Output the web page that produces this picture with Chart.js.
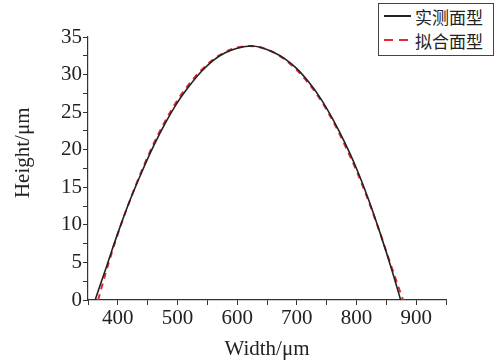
<!DOCTYPE html>
<html>
<head>
<meta charset="utf-8">
<script src="https://cdn.jsdelivr.net/npm/chart.js@4.4.1/dist/chart.umd.min.js"></script>
<style>
  html, body { margin: 0; padding: 0; background: #fff; }
  #wrap { position: relative; width: 497px; height: 362px; }
  #legend {
    position: absolute; left: 378px; top: 3px; width: 114px; height: 51px;
    border: 1px solid #444; background: #fff;
    font-family: "Noto Sans CJK SC", sans-serif; font-size: 17px; color: #222;
  }
  .row { display: flex; align-items: center; height: 24px; padding-left: 5px; }
  .swatch { width: 27px; height: 2px; margin-right: 4px; }
</style>
</head>
<body>
<div id="wrap">
  <canvas id="myChart" width="497" height="362"></canvas>
  <div id="legend"></div>
</div>
<script>
// measured profile
const measuredWidth  = [362, 370, 380, 390, 400, 420, 440, 460, 480, 500, 520, 540, 560, 580, 600, 625, 640, 660, 680, 700, 720, 740, 760, 780, 800, 820, 840, 860, 874];
const measuredHeight = [0, 1.9, 4.2, 6.6, 8.9, 13.2, 17.0, 20.5, 23.6, 26.3, 28.5, 30.4, 31.9, 32.9, 33.5, 33.8, 33.6, 33.0, 32.1, 30.8, 29.0, 26.8, 24.1, 21.0, 17.5, 13.4, 8.8, 3.8, 0];
// fitted profile
const fitWidth  = [367, 380, 400, 420, 440, 460, 480, 500, 520, 540, 560, 580, 600, 620, 640, 660, 680, 700, 720, 740, 760, 780, 800, 820, 840, 860, 878];
const fitHeight = [0, 3.7, 8.8, 13.2, 17.2, 20.8, 23.9, 26.6, 28.8, 30.6, 32.0, 33.0, 33.6, 33.8, 33.6, 33.0, 32.0, 30.6, 28.8, 26.6, 23.9, 20.7, 17.2, 13.2, 8.8, 4.1, 0];

const seriesLabels = ['实测面型', '拟合面型'];
const xTickLabels = [400, 500, 600, 700, 800, 900];
const yTickLabels = [0, 5, 10, 15, 20, 25, 30, 35];

const toPoints = (xs, ys) => xs.map((x, i) => ({ x: x, y: ys[i] }));
const serif = 'Liberation Serif';

const ctx = document.getElementById('myChart').getContext('2d');
const myChart = new Chart(ctx, {
  type: 'line',
  data: {
    datasets: [{
      label: seriesLabels[0],
      data: toPoints(measuredWidth, measuredHeight),
      borderColor: '#222',
      borderWidth: 1.6,
      pointRadius: 0,
      cubicInterpolationMode: 'monotone'
    }, {
      label: seriesLabels[1],
      data: toPoints(fitWidth, fitHeight),
      borderColor: '#e8262b',
      borderWidth: 2,
      borderDash: [6, 5],
      pointRadius: 0,
      cubicInterpolationMode: 'monotone'
    }]
  },
  options: {
    responsive: false,
    animation: false,
    layout: { padding: { top: 37, right: 51, left: 0, bottom: 0 } },
    plugins: { legend: { display: false }, tooltip: { enabled: false } },
    scales: {
      x: {
        type: 'linear', min: 350, max: 950,
        afterFit: (s) => { s.height = 62; },
        ticks: {
          stepSize: 50, autoSkip: false, maxRotation: 0, padding: 1,
          color: '#222', font: { family: serif, size: 21 },
          callback: (v) => xTickLabels.includes(v) ? v : ''
        },
        grid: { drawOnChartArea: false, tickLength: 5, tickColor: '#333' },
        border: { color: '#333', width: 1.2 },
        title: { display: true, text: 'Width/μm', color: '#222', font: { family: serif, size: 21 }, padding: { top: 0, bottom: 0 } }
      },
      y: {
        min: 0, max: 35,
        afterFit: (s) => { s.width = 88; },
        ticks: {
          stepSize: 2.5, autoSkip: false, padding: 1,
          color: '#222', font: { family: serif, size: 21 },
          callback: (v) => yTickLabels.includes(v) ? v : ''
        },
        grid: { drawOnChartArea: false, tickLength: 5, tickColor: '#333' },
        border: { color: '#333', width: 1.2 },
        // leading spaces nudge the rotated title up, as in the original
        title: { display: true, text: '      Height/μm', color: '#222', font: { family: serif, size: 21 }, padding: { top: 11, bottom: 0 } }
      }
    }
  }
});

// legend box in the top right corner
const legendEl = document.getElementById('legend');
myChart.data.datasets.forEach((ds) => {
  const row = document.createElement('div');
  row.className = 'row';
  const sw = document.createElement('span');
  sw.className = 'swatch';
  if (ds.borderDash) {
    sw.style.background = `linear-gradient(to right, ${ds.borderColor} 0 9px, transparent 9px 15px, ${ds.borderColor} 15px 24px, transparent 24px)`;
  } else {
    sw.style.background = ds.borderColor;
  }
  const txt = document.createElement('span');
  txt.textContent = ds.label;
  row.appendChild(sw);
  row.appendChild(txt);
  legendEl.appendChild(row);
});
</script>
</body>
</html>
